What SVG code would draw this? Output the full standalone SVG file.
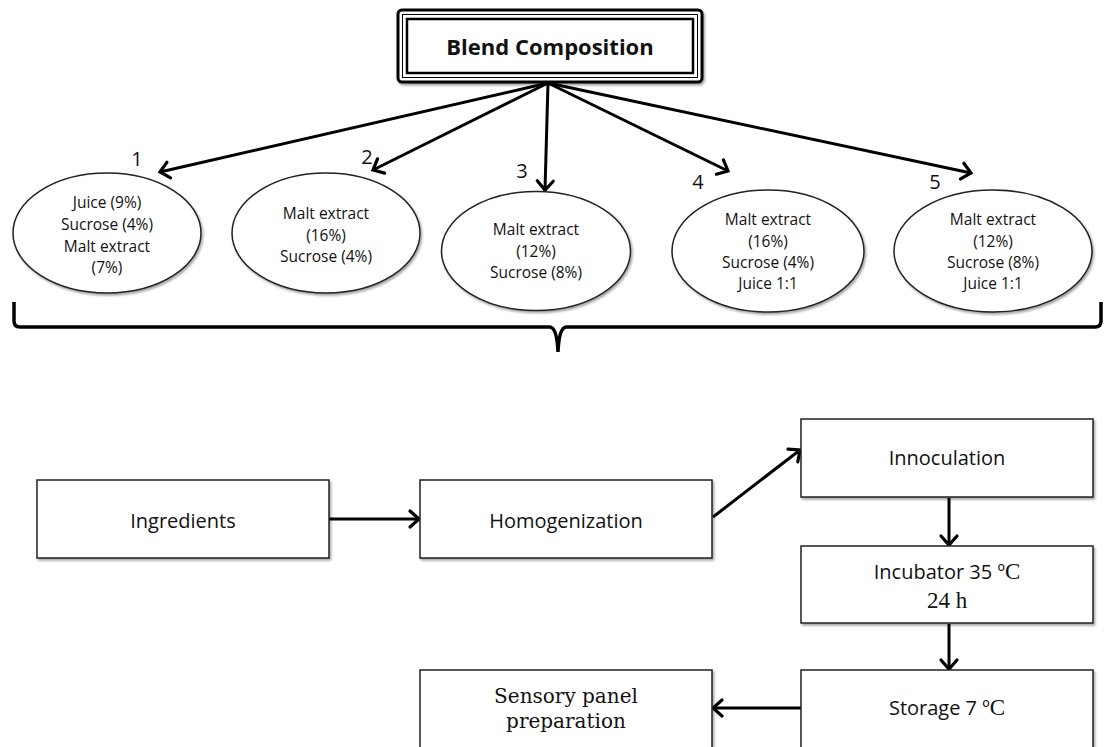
<svg xmlns="http://www.w3.org/2000/svg" width="1104" height="747" viewBox="0 0 1104 747">
<style>
.sans{font-family:"Open Sans","Liberation Sans",sans-serif;fill:#111;text-anchor:middle}
.ell{font-size:15.5px}
.lab{font-size:20px}
.box{font-size:20px}
.serif{font-family:"Liberation Serif","Times New Roman",serif}
.dser{font-family:"DejaVu Serif","Liberation Serif",serif;font-size:20px;fill:#111;text-anchor:middle}
.node{fill:#fff;stroke:#222;stroke-width:1.5}
.conn{stroke:#000;stroke-width:3;fill:none}
</style>
<defs>
<filter id="sh" x="-5%" y="-5%" width="115%" height="125%">
<feDropShadow dx="1.5" dy="2" stdDeviation="1.2" flood-color="#000" flood-opacity="0.35"/>
</filter>
<marker id="arr" markerUnits="userSpaceOnUse" markerWidth="24" markerHeight="24" refX="16" refY="12" orient="auto" viewBox="0 0 24 24">
<path d="M7,4 L16,12 L7,20" fill="none" stroke="#000" stroke-width="3.2" stroke-linecap="round" stroke-linejoin="miter"/>
</marker>
</defs>

<g id="blend">
<rect x="398" y="10" width="304" height="72" rx="4" fill="#fff" stroke="#000" stroke-width="3" filter="url(#sh)"/>
<rect x="402.5" y="14.5" width="295" height="63" fill="none" stroke="#000" stroke-width="1"/>
<rect x="407" y="19" width="286" height="54" fill="none" stroke="#000" stroke-width="2.5"/>
<text x="550" y="55" class="sans" style="font-size:22px;font-weight:bold">Blend Composition</text>
</g>

<g id="connectors">
<line class="conn" x1="548" y1="83" x2="160" y2="172" marker-end="url(#arr)"/>
<line class="conn" x1="548" y1="83" x2="373" y2="170" marker-end="url(#arr)"/>
<line class="conn" x1="548" y1="83" x2="545" y2="190" marker-end="url(#arr)"/>
<line class="conn" x1="548" y1="83" x2="728" y2="171" marker-end="url(#arr)"/>
<line class="conn" x1="548" y1="83" x2="971" y2="173" marker-end="url(#arr)"/>
<line class="conn" x1="329" y1="519" x2="419" y2="519" marker-end="url(#arr)"/>
<line class="conn" x1="713" y1="517" x2="800" y2="450" marker-end="url(#arr)"/>
<line class="conn" x1="949" y1="498" x2="949" y2="545" marker-end="url(#arr)"/>
<line class="conn" x1="949" y1="624" x2="949" y2="669" marker-end="url(#arr)"/>
<line class="conn" x1="801" y1="708" x2="713" y2="708" marker-end="url(#arr)"/>
</g>

<g id="labels">
<text x="137" y="166" class="sans lab">1</text>
<text x="367" y="164" class="sans lab">2</text>
<text x="522" y="178" class="sans lab">3</text>
<text x="698" y="189" class="sans lab">4</text>
<text x="935" y="189" class="sans lab">5</text>
</g>

<g id="blend1">
<ellipse class="node" cx="107" cy="233" rx="94" ry="60" filter="url(#sh)"/>
<text class="sans ell" x="107" y="208">Juice (9%)</text>
<text class="sans ell" x="107" y="230">Sucrose (4%)</text>
<text class="sans ell" x="107" y="252">Malt extract</text>
<text class="sans ell" x="107" y="273">(7%)</text>
</g>
<g id="blend2">
<ellipse class="node" cx="326" cy="233" rx="94" ry="60" filter="url(#sh)"/>
<text class="sans ell" x="326" y="219">Malt extract</text>
<text class="sans ell" x="326" y="241">(16%)</text>
<text class="sans ell" x="326" y="262">Sucrose (4%)</text>
</g>
<g id="blend3">
<ellipse class="node" cx="536" cy="251" rx="94.5" ry="59.5" filter="url(#sh)"/>
<text class="sans ell" x="536" y="235">Malt extract</text>
<text class="sans ell" x="536" y="257">(12%)</text>
<text class="sans ell" x="536" y="278">Sucrose (8%)</text>
</g>
<g id="blend4">
<ellipse class="node" cx="768" cy="251" rx="96" ry="61" filter="url(#sh)"/>
<text class="sans ell" x="768" y="225">Malt extract</text>
<text class="sans ell" x="768" y="247">(16%)</text>
<text class="sans ell" x="768" y="268">Sucrose (4%)</text>
<text class="sans ell" x="768" y="289">Juice 1:1</text>
</g>
<g id="blend5">
<ellipse class="node" cx="993" cy="251" rx="99" ry="61" filter="url(#sh)"/>
<text class="sans ell" x="993" y="225">Malt extract</text>
<text class="sans ell" x="993" y="247">(12%)</text>
<text class="sans ell" x="993" y="268">Sucrose (8%)</text>
<text class="sans ell" x="993" y="289">Juice 1:1</text>
</g>

<g id="bracket">
<path class="conn" style="stroke-width:3.5" d="M14,302 L14,321 Q14,327 20,327 L550,327 Q557,328 558,352 Q559,328 566,327 L1095,327 Q1101,327 1101,321 L1101,302"/>
</g>

<g id="ingredients">
<rect class="node" x="37" y="480" width="292" height="78" filter="url(#sh)"/>
<text class="sans box" x="183" y="528">Ingredients</text>
</g>
<g id="homogenization">
<rect class="node" x="420" y="480" width="292" height="78" filter="url(#sh)"/>
<text class="sans box" x="566" y="528">Homogenization</text>
</g>
<g id="innoculation">
<rect class="node" x="801" y="419" width="292" height="78" filter="url(#sh)"/>
<text class="sans box" x="947" y="465">Innoculation</text>
</g>
<g id="incubator">
<rect class="node" x="801" y="546" width="292" height="77" filter="url(#sh)"/>
<text class="sans box" x="947" y="579">Incubator 35 º<tspan class="serif" style="font-size:23px">C</tspan></text>
<text class="sans serif" style="font-size:23px" x="947" y="608">24 h</text>
</g>
<g id="storage">
<rect class="node" x="801" y="670" width="292" height="82" filter="url(#sh)"/>
<text class="sans box" x="947" y="715">Storage 7 º<tspan class="serif" style="font-size:23px">C</tspan></text>
</g>
<g id="sensory">
<rect class="node" x="420" y="670" width="292" height="82" filter="url(#sh)"/>
<text class="dser" x="566" y="703">Sensory panel</text>
<text class="dser" x="566" y="728">preparation</text>
</g>
</svg>
